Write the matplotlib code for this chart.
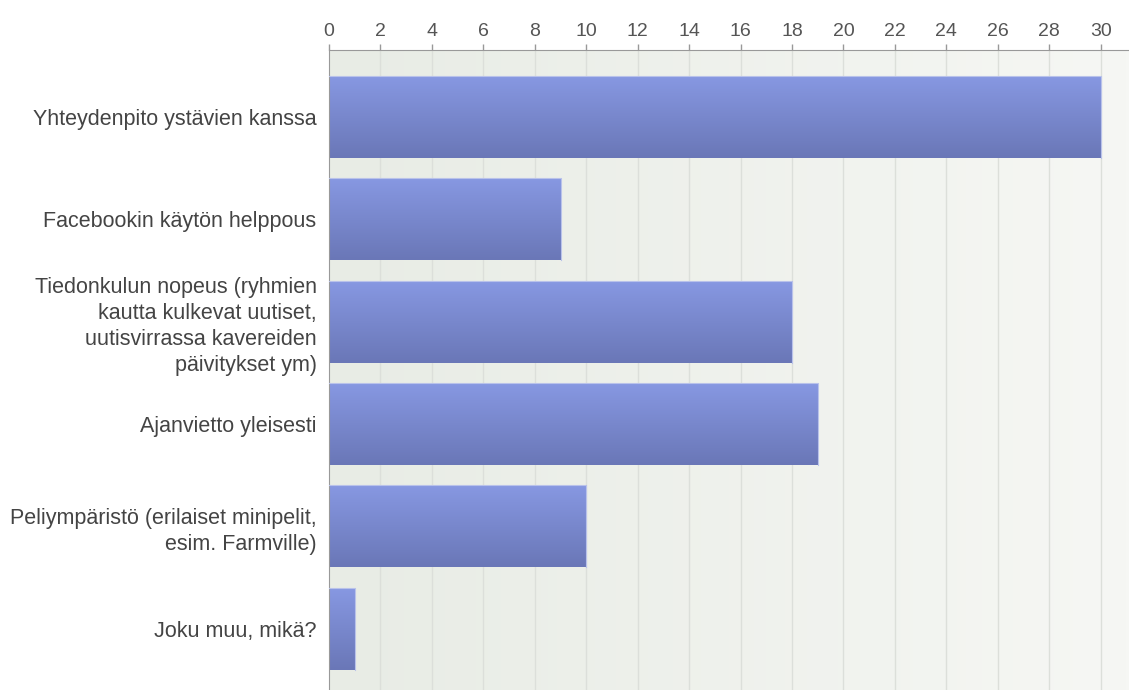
import numpy as np
import matplotlib.pyplot as plt
from matplotlib.colors import LinearSegmentedColormap

categories = [
    'Yhteydenpito ystävien kanssa',
    'Facebookin käytön helppous',
    'Tiedonkulun nopeus (ryhmien\nkautta kulkevat uutiset,\nuutisvirrassa kavereiden\npäivitykset ym)',
    'Ajanvietto yleisesti',
    'Peliympäristö (erilaiset minipelit,\nesim. Farmville)',
    'Joku muu, mikä?',
]
values = [30, 9, 18, 19, 10, 1]
ticks = list(range(0, 31, 2))

plt.rcParams['font.family'] = ['Liberation Sans', 'DejaVu Sans']

fig = plt.figure(figsize=(11.29, 6.90), dpi=100)
ax = fig.add_axes([329 / 1129, 0.0, 800 / 1129, 640 / 690])

xmax = 31.1
ymin, ymax = len(values) - 0.4, -0.655
ax.set_xlim(0, xmax)
ax.set_ylim(ymin, ymax)

# background gradient
bg = LinearSegmentedColormap.from_list('bg', ['#e8ece5', '#f6f7f4'])
ax.imshow(np.linspace(0, 1, 256).reshape(1, -1), cmap=bg, aspect='auto',
          extent=[0, xmax, ymin, ymax], zorder=0)

for t in ticks[1:]:
    ax.axvline(t, color='#dcdfda', lw=1, zorder=1)

# bars with vertical gradient
barc = LinearSegmentedColormap.from_list('bar', ['#6a77b7', '#8798e2'])
grad = np.linspace(1, 0, 256).reshape(-1, 1)
h = 0.8
for i, v in enumerate(values):
    ax.imshow(grad, cmap=barc, aspect='auto',
              extent=[0, v, i + h / 2, i - h / 2], zorder=2)
    ax.plot([0, v, v], [i - h / 2, i - h / 2, i + h / 2], color='#b9c2ea',
            lw=0.8, zorder=3)

ax.set_xlim(0, xmax)
ax.set_ylim(ymin, ymax)

ax.xaxis.tick_top()
ax.set_xticks(ticks)
ax.tick_params(axis='x', colors='#555555', labelsize=14, length=4,
               width=1, pad=3.5)
ax.tick_params(axis='x', color='#999999')
ax.set_yticks(range(len(categories)))
ax.set_yticklabels(categories, fontsize=15.5, color='#444444', linespacing=1.3)
ax.tick_params(axis='y', length=0, pad=9)

for s in ['right', 'bottom']:
    ax.spines[s].set_visible(False)
ax.spines['top'].set_color('#999999')
ax.spines['left'].set_color('#999999')

fig.savefig('out.png', dpi=100)
